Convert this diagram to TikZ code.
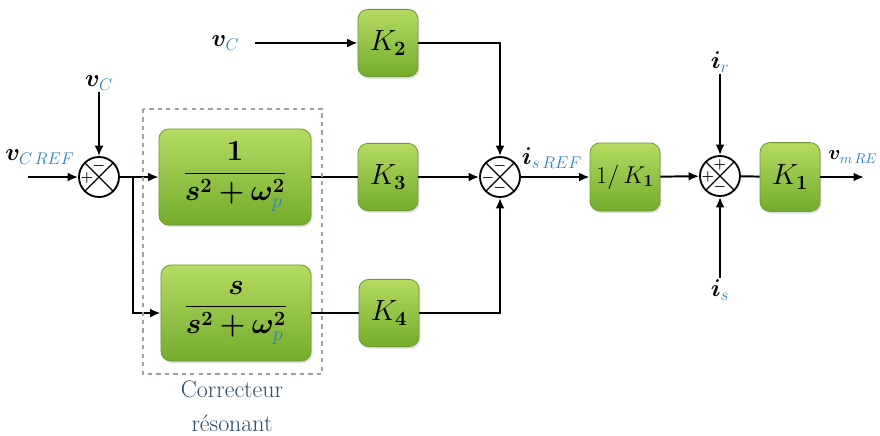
\documentclass[tikz,border=0pt]{standalone}
\usepackage{amsmath}
\usepackage{bm}
\usetikzlibrary{arrows.meta, positioning, calc, shadows}
\definecolor{blktop}{HTML}{B4DB62}
\definecolor{blkbot}{HTML}{74AC2C}
\definecolor{blkedge}{HTML}{6F9B36}
\definecolor{subc}{HTML}{2F7FB5}
\definecolor{dashc}{HTML}{A99D95}
\definecolor{capc}{HTML}{2D4B66}
\newcommand{\gblock}[5]{%
  \node[blk, minimum width=#3, minimum height=#4] (#1) at #2 {#5};
}
\newcommand{\junction}[5]{%
  \node[circle, draw, line width=1.3pt, minimum size=1cm,
        inner sep=0pt] (#1) at #2 {};
  \draw[line width=0.9pt] (#1.north west) -- (#1.south east)
        (#1.north east) -- (#1.south west);
  \node[sgn] at ($(#1)+(0,-11)$) {#3};
  \node[sgn] at ($(#1)+(-12,1)$) {#4};
  \node[sgn] at ($(#1)+(0,11)$) {#5};
}
\tikzset{
  blk/.style={rounded corners=7pt, draw=blkedge, line width=0.6pt,
    top color=blktop, bottom color=blkbot, inner sep=0pt,
    drop shadow={opacity=0.25, shadow xshift=1pt, shadow yshift=-1.5pt}},
  sig/.style={-{Latex[length=2.6mm,width=2.2mm]}, line width=1.4pt},
  wire/.style={line width=1.4pt},
  sgn/.style={font=\normalsize, inner sep=0pt},
  lbl/.style={font=\LARGE, inner sep=1pt},
}

\begin{document}
\begin{tikzpicture}[x=0.025cm, y=-0.025cm]
    \useasboundingbox (0,0) rectangle (880,435);
    % summing junctions
    \junction{s1}{(99,177)}{$\bm -$}{$\bm +$}{};
    \junction{s2}{(500,177)}{$\bm -$}{$\bm -$}{$\bm -$};
    \junction{s3}{(720,176)}{$\bm +$}{$\bm +$}{$\bm -$};
    % blocks
    \gblock{b1}{(235,177)}{3.8cm}{2.4cm}
      {\huge$\dfrac{\bm{1}}{\bm{s^2+\omega}_{\textcolor{subc}{p}}^{\bm 2}}$};
    \gblock{b2}{(236,313)}{3.75cm}{2.4cm}
      {\huge$\dfrac{\bm{s}}{\bm{s^2+\omega}_{\textcolor{subc}{p}}^{\bm 2}}$};
    \foreach \n/\p/\k in {k2/{(388,43)}/2, k3/{(388,177)}/3, k4/{(389,313)}/4}
      \gblock{\n}{\p}{1.5cm}{1.68cm}{\huge$K_{\bm\k}$};
    \gblock{kinv}{(625,177)}{1.75cm}{1.7cm}{\LARGE$1/\,K_{\bm 1}$};
    \gblock{k1}{(790,177)}{1.5cm}{1.72cm}{\huge$K_{\bm 1}$};
    % free ends
    \coordinate (inref) at (28,177);
    \coordinate (invc) at (99,92);
    \coordinate (invc2) at (255,43);
    \coordinate (inir) at (720,74);
    \coordinate (inis) at (720,278);
    \coordinate (out) at (864,177);
    \coordinate (br) at (133,177);
    % connectors
    \draw[sig] (inref) -- (s1);
    \draw[sig] (invc) -- (s1);
    \draw[sig] (s1) -- (b1);
    \draw[sig] (br) |- (b2);
    \draw[wire] (b1) -- (k3);
    \draw[wire] (b2) -- (k4);
    \draw[sig] (invc2) -- (k2);
    \draw[sig] (k2) -| (s2);
    \draw[sig] (k3) -- (s2);
    \draw[sig] (k4) -| (s2);
    \draw[sig] (s2) -- (kinv);
    \draw[sig] (kinv) -- (s3);
    \draw[sig] (inir) -- (s3);
    \draw[sig] (inis) -- (s3);
    \draw[wire] (s3) -- (k1);
    \draw[sig] (k1) -- (out);
    % labels
    \node[lbl] (lref) at (40,157) {$\bm{v}_{\textcolor{subc}{C\,REF}}$};
    \node[lbl, above=0pt of invc] (lvc) {$\bm{v}_{\textcolor{subc}{C}}$};
    \node[lbl, left=10pt of invc2] (lvc2) {$\bm{v}_{\textcolor{subc}{C}}$};
    \node[lbl] (lis) at (552,158) {$\bm{i}_{\textcolor{subc}{s\,REF}}$};
    \node[lbl, above=0pt of inir] (lir) {$\bm{i}_{\textcolor{subc}{r}}$};
    \node[lbl, below=0pt of inis] (lisb) {$\bm{i}_{\textcolor{subc}{s}}$};
    \node[lbl, font=\Large, anchor=east] (lvm) at (879,157)
      {$\bm{v}_{\textcolor{subc}{m\,RE}}$};
    % resonant corrector frame
    \draw[dashc, dashed, line width=1.3pt] (143,109) rectangle (322,374);
    \node[capc, align=center, font={\fontsize{17}{24}\selectfont}]
      (cap) at (232,406) {Correcteur\\résonant};
\end{tikzpicture}
\end{document}
